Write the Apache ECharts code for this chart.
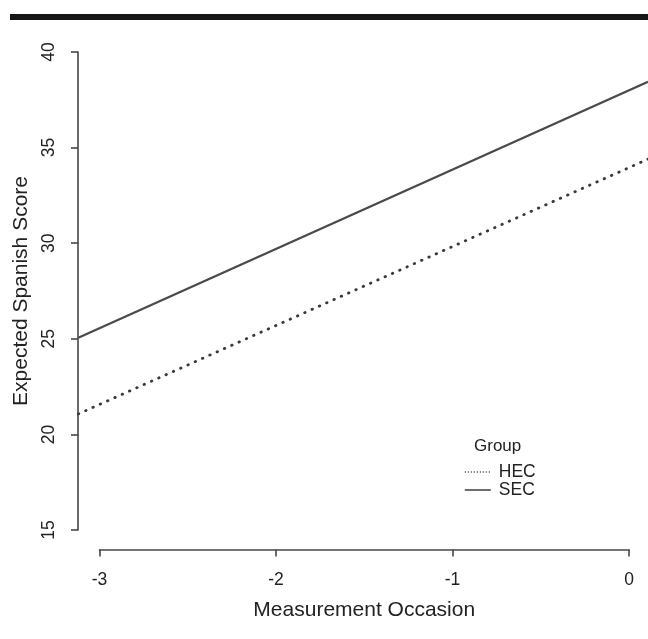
<!DOCTYPE html>
<html>
<head>
<meta charset="utf-8">
<script src="https://cdn.jsdelivr.net/npm/echarts@6/dist/echarts.min.js"></script>
<style>
  html, body { margin: 0; padding: 0; background: #fff; }
  #chart { width: 648px; height: 639px; }
</style>
</head>
<body>
<div id="chart"></div>
<script>
// predicted lines, read at the left and right edge of the plot region
var occasion = [-3.12, 0.12];
var hecScore = [21.07, 34.40];
var secScore = [25.05, 38.44];

var groupNames = ["HEC", "SEC"];
var xTicks = [-3, 0, 1];      // min, max, interval
var yTicks = [15, 40, 5];

var FONT = "Liberation Sans, Arial, Helvetica, sans-serif";
var AXIS_COLOR = "#474747";
var TEXT_COLOR = "#222";

var dom = document.getElementById("chart");
var myChart = echarts.init(dom, null, { renderer: "canvas" });

var option = {
  animation: false,
  textStyle: { fontFamily: FONT },
  graphic: [
    // black rule over the figure
    { type: "rect", left: 10, top: 14, shape: { width: 640, height: 6 }, style: { fill: "#161616" } },
    {
      type: "text", left: 474, top: 438,
      style: { text: "Group", font: "17px " + FONT, fill: TEXT_COLOR }
    }
  ],
  grid: [
    // plot region (data extent plus 4%)
    { left: 78.3, top: 32.9, width: 571.9, height: 516.2 },
    // x axis, drawn from -3 to 0 only
    { left: 99.5, top: 100, width: 529.5, height: 449.5 },
    // y axis, drawn from 15 to 40 only
    { left: 78, top: 52, width: 400, height: 478 }
  ],
  xAxis: [
    { gridIndex: 0, type: "value", min: occasion[0], max: occasion[1], show: false },
    {
      gridIndex: 1, type: "value", min: xTicks[0], max: xTicks[1], interval: xTicks[2],
      splitLine: { show: false },
      axisLine: { lineStyle: { color: AXIS_COLOR, width: 1.6 } },
      axisTick: { length: 7, lineStyle: { color: AXIS_COLOR, width: 1.6 } },
      axisLabel: { margin: 22, fontSize: 17.5, color: TEXT_COLOR },
      name: "Measurement Occasion", nameLocation: "middle", nameGap: 50,
      nameTextStyle: { fontSize: 21, color: TEXT_COLOR }
    },
    { gridIndex: 2, type: "value", show: false }
  ],
  yAxis: [
    { gridIndex: 0, type: "value", min: 14, max: 41, show: false },
    { gridIndex: 1, type: "value", show: false },
    {
      gridIndex: 2, type: "value", min: yTicks[0], max: yTicks[1], interval: yTicks[2],
      splitLine: { show: false },
      axisLine: { show: true, lineStyle: { color: AXIS_COLOR, width: 1.6 } },
      axisTick: { show: true, length: 7, lineStyle: { color: AXIS_COLOR, width: 1.6 } },
      axisLabel: { rotate: 90, margin: 20, fontSize: 17.5, color: TEXT_COLOR },
      name: "Expected Spanish Score", nameLocation: "middle", nameGap: 46, nameRotate: 90,
      nameTextStyle: { fontSize: 21, color: TEXT_COLOR }
    }
  ],
  legend: {
    data: [
      { name: groupNames[0], lineStyle: { type: [1, 2], width: 1.6, cap: "butt" } },
      { name: groupNames[1] }
    ],
    orient: "vertical",
    left: 459, top: 458,
    itemWidth: 26, itemHeight: 11, itemGap: 0,
    // hide the marker dot, keep only the line sample
    itemStyle: { color: "transparent", borderWidth: 0, opacity: 0 },
    lineStyle: { width: 1.6 },
    textStyle: { fontSize: 17.5, lineHeight: 17, color: TEXT_COLOR, padding: [0, 0, 0, 3] }
  },
  series: [
    {
      name: groupNames[0], type: "line", xAxisIndex: 0, yAxisIndex: 0,
      data: occasion.map(function (x, i) { return [x, hecScore[i]]; }),
      symbol: "none",
      lineStyle: { color: "#3a3a3a", width: 2.8, type: [0.5, 7.5], cap: "round" },
      itemStyle: { color: "#3a3a3a" }
    },
    {
      name: groupNames[1], type: "line", xAxisIndex: 0, yAxisIndex: 0,
      data: occasion.map(function (x, i) { return [x, secScore[i]]; }),
      symbol: "none",
      lineStyle: { color: "#4a4a4a", width: 2.2, type: "solid" },
      itemStyle: { color: "#4a4a4a" }
    }
  ]
};

myChart.setOption(option);
window.addEventListener("resize", myChart.resize);
</script>
</body>
</html>
